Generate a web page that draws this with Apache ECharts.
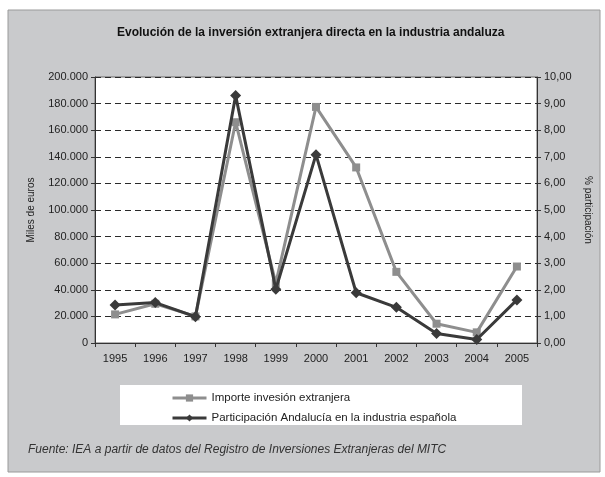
<!DOCTYPE html>
<html lang="es">
<head>
<meta charset="UTF-8"/>
<title>Evolución de la inversión extranjera directa</title>
<script src="https://cdn.jsdelivr.net/npm/echarts@6/dist/echarts.min.js"></script>
<style>
    html, body { margin: 0; padding: 0; background: #fff; }
    #chart { width: 605px; height: 477px; }
</style>
</head>
<body>
<div id="chart"></div>
<script>
    // datos
    const years = ['1995', '1996', '1997', '1998', '1999', '2000', '2001', '2002', '2003', '2004', '2005'];
    const importe = [21500, 29500, 20000, 166000, 45000, 177500, 132000, 53500, 14500, 8000, 57500];
    const participacion = [1.43, 1.52, 0.99, 9.3, 2.02, 7.08, 1.89, 1.34, 0.36, 0.13, 1.62];

    const nameImporte = 'Importe invesión extranjera';
    const nameParticipacion = 'Participación Andalucía en la industria española';

    const font = 'Arial, "Liberation Sans", sans-serif';

    function fmtMiles(v) {
        return String(v).replace(/\B(?=(\d{3})+(?!\d))/g, '.');
    }

    function fmtPct(v) {
        return v.toFixed(2).replace('.', ',');
    }

    const chart = echarts.init(document.getElementById('chart'));
    chart.setOption({
        backgroundColor: '#ffffff',
        animation: false,
        textStyle: {fontFamily: font},
        graphic: [
            {
                type: 'rect', z: -10,
                shape: {x: 8, y: 10, width: 592, height: 462},
                style: {fill: '#c9cacc', stroke: '#9a9a9a', lineWidth: 1}
            },
            {
                type: 'rect', z: -5,
                shape: {x: 120, y: 385, width: 402, height: 40},
                style: {fill: '#ffffff'}
            },
            {
                type: 'text', left: 28, top: 444,
                style: {
                    text: 'Fuente: IEA a partir de datos del Registro de Inversiones Extranjeras del MITC',
                    font: 'italic 12px ' + font, fill: '#333'
                }
            }
        ],
        title: {
            text: 'Evolución de la inversión extranjera directa en la industria andaluza',
            left: 112, top: 22,
            textStyle: {fontSize: 12, fontWeight: 'bold', color: '#111', fontFamily: font}
        },
        legend: {
            orient: 'vertical',
            left: 166, top: 387,
            itemWidth: 34, itemHeight: 9, itemGap: 8,
            lineStyle: {width: 3},
            textStyle: {fontSize: 11.5, color: '#222', fontFamily: font},
            data: [nameImporte, nameParticipacion]
        },
        grid: {
            left: 95, right: 68, top: 77, bottom: 134,
            show: true, backgroundColor: '#ffffff', borderColor: '#666', borderWidth: 1
        },
        xAxis: {
            type: 'category',
            data: years,
            boundaryGap: true,
            axisLine: {lineStyle: {color: '#333', width: 1}},
            axisTick: {show: true, length: 4, inside: false, lineStyle: {color: '#333'}},
            axisLabel: {fontSize: 11, color: '#222', margin: 10}
        },
        yAxis: [
            {
                type: 'value', min: 0, max: 200000, interval: 20000,
                name: 'Miles de euros', nameLocation: 'middle', nameGap: 59, nameRotate: 90,
                nameTextStyle: {fontSize: 10, color: '#222'},
                axisLine: {show: true, lineStyle: {color: '#333'}},
                axisTick: {show: true, length: 4, lineStyle: {color: '#333'}},
                axisLabel: {fontSize: 11, color: '#222', margin: 7, formatter: fmtMiles},
                splitLine: {show: true, lineStyle: {color: '#2a2a2a', type: [6, 4], width: 1}}
            },
            {
                type: 'value', min: 0, max: 10, interval: 1,
                name: '% participación', nameLocation: 'middle', nameGap: 41, nameRotate: -90,
                nameTextStyle: {fontSize: 10, color: '#222'},
                axisLine: {show: true, lineStyle: {color: '#333'}},
                axisTick: {show: true, length: 4, lineStyle: {color: '#333'}},
                axisLabel: {fontSize: 11, color: '#222', margin: 7, formatter: fmtPct},
                splitLine: {show: false}
            }
        ],
        series: [
            {
                name: nameImporte, type: 'line', yAxisIndex: 0,
                data: importe,
                symbol: 'rect', symbolSize: 8,
                lineStyle: {color: '#8e8e8e', width: 3},
                itemStyle: {color: '#8e8e8e'},
                z: 2
            },
            {
                name: nameParticipacion, type: 'line', yAxisIndex: 1,
                data: participacion,
                symbol: 'diamond', symbolSize: 11,
                lineStyle: {color: '#3a3a3a', width: 3},
                itemStyle: {color: '#3a3a3a'},
                z: 3
            }
        ]
    });
</script>
</body>
</html>
